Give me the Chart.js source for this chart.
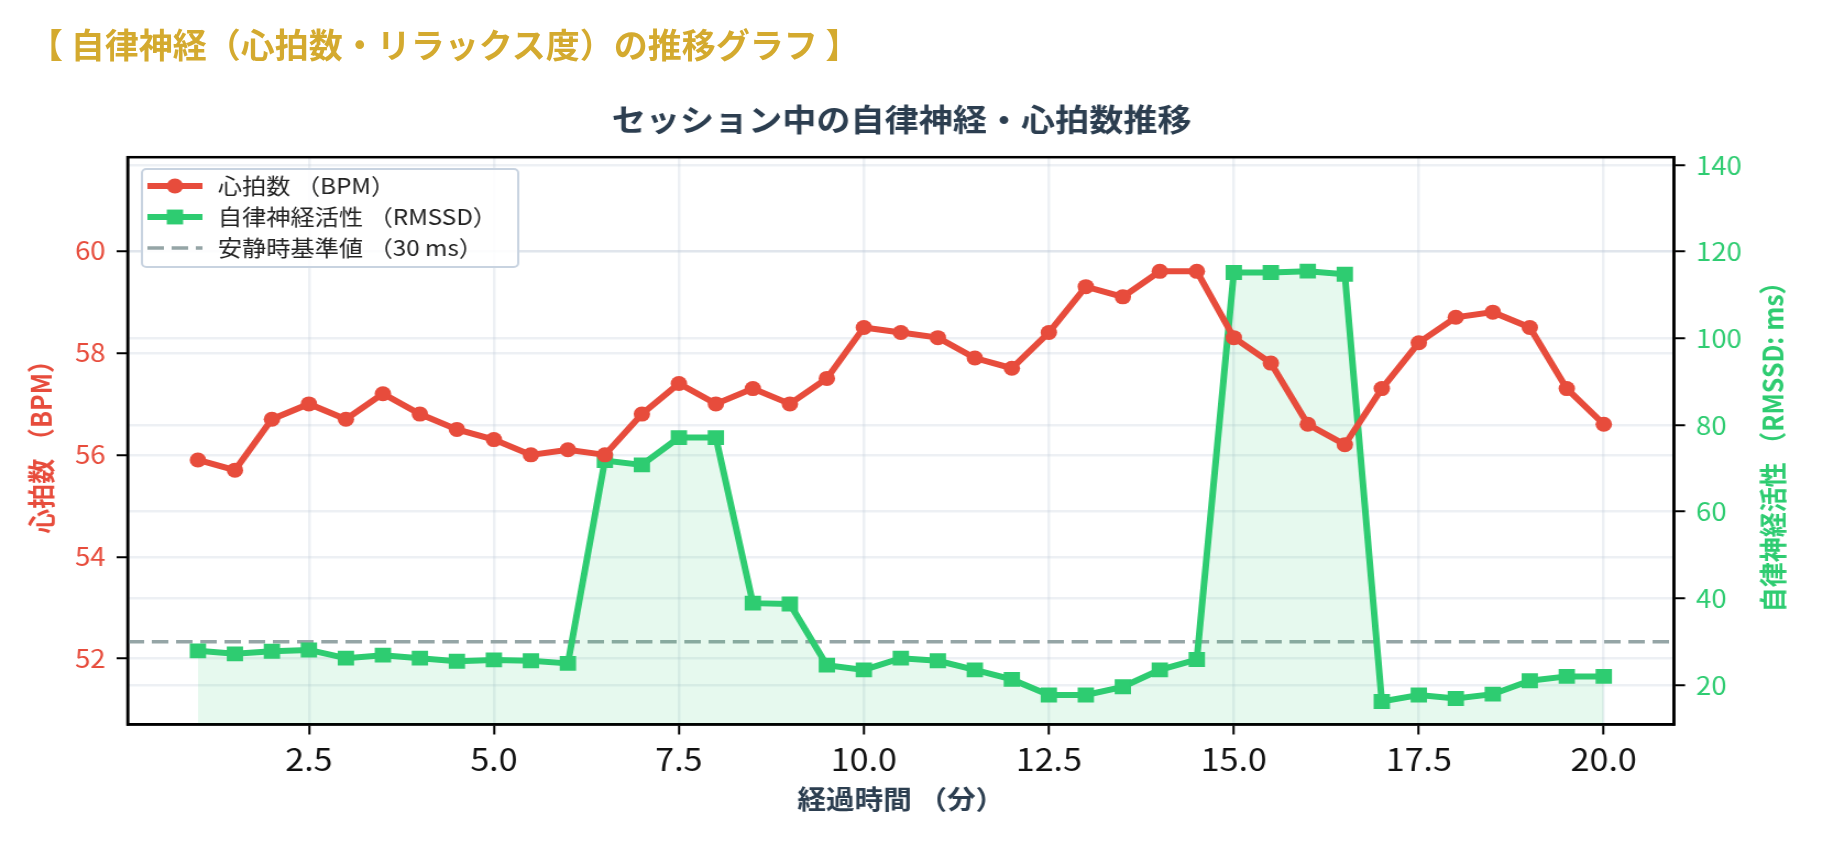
<!DOCTYPE html>
<html lang="ja">
<head>
<meta charset="utf-8">
<title>自律神経の推移グラフ</title>
<script src="https://cdn.jsdelivr.net/npm/chart.js@4.4.1/dist/chart.umd.min.js"></script>
<style>
  html, body { margin: 0; padding: 0; background: #fff; overflow: hidden; }
  #page { position: relative; width: 1834px; height: 846px; }
  #header {
    position: absolute; left: 29px; top: 27px; z-index: 2;
    font: bold 34px/34px "Noto Sans CJK JP", sans-serif;
    color: #d4aa2f; white-space: pre;
  }
  /* the chart picture is a little wider than tall-scaled, so stretch it */
  #wrap {
    position: absolute; left: 0; top: 0; width: 1667px; height: 846px;
    transform: scaleX(1.1002); transform-origin: 0 0;
  }
</style>
</head>
<body>
<div id="page">
  <div id="wrap"><canvas id="chart" width="1667" height="846" style="width:1667px;height:846px"></canvas></div>
  <div id="header">【 自律神経（心拍数・リラックス度）の推移グラフ 】</div>
</div>
<script>
// elapsed time (min)
const minutes = [1, 1.5, 2, 2.5, 3, 3.5, 4, 4.5, 5, 5.5, 6, 6.5, 7, 7.5, 8, 8.5, 9, 9.5, 10,
  10.5, 11, 11.5, 12, 12.5, 13, 13.5, 14, 14.5, 15, 15.5, 16, 16.5, 17, 17.5, 18, 18.5, 19, 19.5, 20];
// heart rate (BPM)
const heartRate = [55.9, 55.7, 56.7, 57.0, 56.7, 57.2, 56.8, 56.5, 56.3, 56.0, 56.1, 56.0, 56.8,
  57.4, 57.0, 57.3, 57.0, 57.5, 58.5, 58.4, 58.3, 57.9, 57.7, 58.4, 59.3, 59.1, 59.6, 59.6,
  58.3, 57.8, 56.6, 56.2, 57.3, 58.2, 58.7, 58.8, 58.5, 57.3, 56.6];
// autonomic activity (RMSSD, ms)
const rmssd = [27.9, 27.2, 27.8, 28.1, 26.2, 26.9, 26.2, 25.5, 25.8, 25.6, 25.0, 71.8, 70.8,
  77.1, 77.1, 38.9, 38.7, 24.6, 23.5, 26.2, 25.6, 23.5, 21.3, 17.7, 17.7, 19.6, 23.5, 25.9,
  115.2, 115.2, 115.5, 114.8, 16.2, 17.7, 16.9, 17.9, 21.0, 22.0, 22.0];
const baselineMs = 30;

// axis ranges
const xMin = 0.05, xMax = 20.95;
const hrMin = 50.71, hrMax = 61.84;
const msMin = 10.9, msMax = 141.8;

const labels = {
  hr: "心拍数 （BPM）",
  ms: "自律神経活性 （RMSSD）",
  base: "安静時基準値 （30 ms）",
  xTitle: "経過時間 （分）",
  hrTitle: "心拍数 （BPM）",
  msTitle: "自律神経活性 （RMSSD: ms）",
  title: "セッション中の自律神経・心拍数推移"
};

const RED = "#e74c3c", GREEN = "#2ecc71", GREY = "#95a5a6", DARK = "#2c3e50";
const FONT = "'Noto Sans CJK JP', 'Noto Sans', sans-serif";
Chart.defaults.font.family = FONT;

const gridStyle = {
  color: "rgba(189,200,215,0.28)",
  lineWidth: 2.5,
  tickColor: "#000",
  tickLength: 10,
  tickWidth: 2
};

const decor = {
  id: "decor",
  afterDraw(chart) {
    const ctx = chart.ctx;
    const a = chart.chartArea;

    // frame
    ctx.save();
    ctx.strokeStyle = "#000";
    ctx.lineWidth = 2.5;
    ctx.strokeRect(a.left, a.top, a.right - a.left, a.bottom - a.top);
    ctx.restore();

    // right axis title, reading bottom to top
    ctx.save();
    ctx.translate(1611.6, (a.top + a.bottom) / 2);
    ctx.rotate(-Math.PI / 2);
    ctx.fillStyle = GREEN;
    ctx.font = "bold 25px " + FONT;
    ctx.textAlign = "center";
    ctx.textBaseline = "middle";
    ctx.fillText(labels.msTitle, 0, 0);
    ctx.restore();

    // legend inside the plot
    ctx.save();
    ctx.beginPath();
    ctx.roundRect(129, 169, 342, 98, 4);
    ctx.fillStyle = "rgba(255,255,255,0.9)";
    ctx.fill();
    ctx.strokeStyle = "rgba(200,211,224,1)";
    ctx.lineWidth = 2;
    ctx.stroke();
    const rows = [186, 217, 248];
    chart.data.datasets.forEach((ds, i) => {
      const y = rows[i];
      ctx.beginPath();
      ctx.setLineDash(ds.borderDash || []);
      ctx.strokeStyle = ds.borderColor;
      ctx.lineWidth = ds.borderWidth;
      ctx.moveTo(134, y);
      ctx.lineTo(184, y);
      ctx.stroke();
      ctx.setLineDash([]);
      ctx.fillStyle = ds.borderColor;
      if (ds.pointStyle === "circle" && ds.pointRadius) {
        ctx.beginPath();
        ctx.arc(159, y, ds.pointRadius, 0, Math.PI * 2);
        ctx.fill();
      } else if (ds.pointStyle === "rect" && ds.pointRadius) {
        const h = ds.pointRadius * Math.SQRT1_2;
        ctx.fillRect(159 - h, y - h, 2 * h, 2 * h);
      }
      ctx.fillStyle = "#222";
      ctx.font = "22px " + FONT;
      ctx.textAlign = "left";
      ctx.textBaseline = "middle";
      ctx.fillText(ds.label, 198, y);
    });
    ctx.restore();
  }
};

new Chart(document.getElementById("chart"), {
  type: "line",
  data: {
    datasets: [
      {
        label: labels.hr,
        data: minutes.map((m, i) => ({ x: m, y: heartRate[i] })),
        yAxisID: "y",
        borderColor: RED,
        backgroundColor: RED,
        borderWidth: 6,
        pointStyle: "circle",
        pointRadius: 7.5,
        pointBorderWidth: 0,
        pointBackgroundColor: RED,
        tension: 0,
        order: 0
      },
      {
        label: labels.ms,
        data: minutes.map((m, i) => ({ x: m, y: rmssd[i] })),
        yAxisID: "y1",
        borderColor: GREEN,
        backgroundColor: "rgba(46,204,113,0.12)",
        fill: "start",
        borderWidth: 6,
        pointStyle: "rect",
        pointRadius: 10.5,
        pointBorderWidth: 0,
        pointBackgroundColor: GREEN,
        tension: 0,
        order: 1
      },
      {
        label: labels.base,
        data: [{ x: xMin, y: baselineMs }, { x: xMax, y: baselineMs }],
        yAxisID: "y1",
        borderColor: GREY,
        borderWidth: 3.5,
        borderDash: [15, 7],
        pointRadius: 0,
        fill: false,
        order: 2
      }
    ]
  },
  options: {
    responsive: false,
    animation: false,
    devicePixelRatio: 1,
    events: [],
    layout: { padding: { left: 0, right: 28, top: 0, bottom: 0 } },
    plugins: {
      legend: { display: false },
      tooltip: { enabled: false },
      title: {
        display: true,
        text: labels.title,
        color: DARK,
        font: { size: 31, weight: "bold" },
        padding: { top: 101, bottom: 19 }
      }
    },
    scales: {
      x: {
        type: "linear",
        min: xMin,
        max: xMax,
        grid: gridStyle,
        border: { color: "#000", width: 2.5 },
        ticks: {
          stepSize: 2.5,
          includeBounds: false,
          maxRotation: 0,
          color: "#111",
          font: { size: 31 },
          padding: 6,
          callback: v => v.toFixed(1)
        },
        title: {
          display: true,
          text: labels.xTitle,
          color: DARK,
          font: { size: 26, weight: "bold" },
          padding: { top: 0, bottom: 31 }
        },
        afterFit: s => { s.height = 121.5; }
      },
      y: {
        position: "left",
        min: hrMin,
        max: hrMax,
        grid: gridStyle,
        border: { color: "#000", width: 2.5 },
        ticks: {
          stepSize: 2,
          includeBounds: false,
          color: RED,
          font: { size: 25 },
          padding: 10
        },
        title: {
          display: true,
          text: labels.hrTitle,
          color: RED,
          font: { size: 25, weight: "bold" },
          padding: { top: 22, bottom: 0 }
        },
        afterFit: s => { s.width = 116; }
      },
      y1: {
        position: "right",
        min: msMin,
        max: msMax,
        grid: gridStyle,
        border: { color: "#000", width: 2.5 },
        ticks: {
          stepSize: 20,
          includeBounds: false,
          color: GREEN,
          font: { size: 25 },
          padding: 10
        },
        afterFit: s => { s.width = 117.4; }
      }
    }
  },
  plugins: [decor]
});
</script>
</body>
</html>
